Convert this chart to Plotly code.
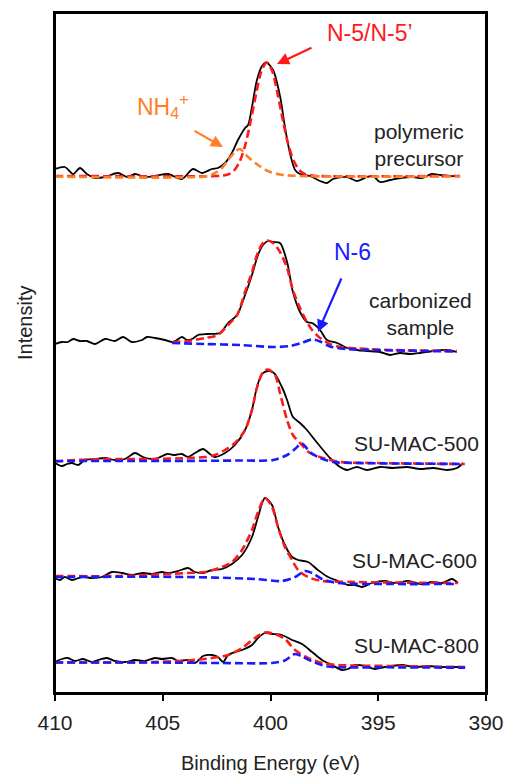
import plotly.graph_objects as go

# ---------------- data (binding energy in eV, intensity in a.u., stacked) ----------------
# 1) polymeric precursor
p_raw_e = [410.0, 409.54, 409.16, 408.84, 408.52, 408.14, 407.68, 407.08, 406.66, 406.29, 405.82, 405.36,
           404.76, 404.11, 403.60, 403.18, 402.72, 402.44, 402.11, 401.79, 401.51, 401.18, 401.04, 400.86,
           400.63, 400.39, 400.19, 399.88, 399.55, 399.33, 399.10, 398.86, 398.63, 398.17, 397.70, 397.38,
           397.10, 396.45, 395.99, 395.52, 395.24, 394.92, 394.45, 393.99, 393.39, 392.97, 392.51, 392.13,
           391.67, 391.35]
p_raw_i = [524, 526, 519, 525, 519, 515, 516, 520, 516, 519, 516, 517,
           519, 514, 524, 520, 524, 525, 530, 540, 553, 565, 568, 586,
           613, 627, 630.5, 623, 596, 566, 540, 523, 519, 517, 512, 510,
           514, 516, 512, 516, 517, 511, 513, 515, 516, 515, 519, 518,
           517, 517]
p_n5_e = [410.0, 402.5, 402.17, 401.92, 401.67, 401.42, 401.17, 400.92, 400.67, 400.42, 400.17, 399.92,
          399.67, 399.42, 399.17, 398.92, 398.67, 398.42, 398.17, 397.9, 391.2]
p_n5_i = [517, 517, 517.6, 519, 523, 532, 548, 572, 599, 622, 630.5, 622,
          599, 572, 548, 532, 523, 519, 517.6, 517, 517]
p_nh4_e = [410.0, 402.9, 402.58, 402.25, 401.97, 401.65, 401.42, 401.04, 400.58, 400.12, 399.56, 398.63, 391.2]
p_nh4_i = [516.5, 517, 520, 525, 533, 541, 544, 536, 528, 522, 518.5, 517, 516.5]

# 2) carbonized sample
c_raw_e = [410.0, 409.68, 409.40, 409.16, 408.84, 408.52, 408.14, 407.68, 407.22, 406.84, 406.43, 405.96,
           405.73, 405.36, 404.90, 404.52, 404.11, 403.87, 403.64, 403.36, 402.90, 402.34, 401.97, 401.55,
           401.18, 400.86, 400.58, 400.35, 400.12, 399.88, 399.56, 399.23, 398.96, 398.63, 398.31, 398.07,
           397.70, 397.38, 396.91, 396.45, 395.99, 395.52, 394.92, 394.45, 393.99, 393.53, 393.06, 392.46,
           391.81, 391.35]
c_raw_i = [349, 351, 351, 354, 352, 352, 349, 354, 352, 356, 351, 353,
           356, 355, 353, 351, 356, 353, 354, 358, 359, 360, 370, 378,
           398, 418, 438, 448, 452, 451, 450, 431, 401, 381, 371, 370,
           363, 353, 350, 345, 343, 342, 341, 338, 340, 339, 340, 342,
           343, 341]
c_n5_e = [404.57, 403.83, 403.04, 402.44, 401.97, 401.55, 401.18, 400.86, 400.58, 400.35, 400.16, 399.88,
          399.56, 399.23, 398.96, 398.63, 398.31, 398.07, 397.70, 397.24, 396.77, 395.99, 394.45, 391.35]
c_n5_i = [351, 352, 355, 358, 368, 378, 401, 421, 441, 450, 452.5, 450,
          441, 425, 403, 385, 371, 363, 355, 349, 346, 344.5, 343, 342]
c_n6_e = [404.57, 403.04, 401.42, 399.88, 399.10, 398.63, 398.07, 397.70, 397.24, 396.45, 395.24, 391.35]
c_n6_i = [350, 349, 348, 346, 347, 349.5, 353.5, 351.5, 346.5, 344, 343, 341.5]

# 3) SU-MAC-500
m5_raw_e = [410.0, 409.68, 409.44, 409.21, 408.93, 408.61, 408.14, 407.68, 407.22, 406.75, 406.29, 405.92,
            405.50, 405.22, 404.80, 404.43, 404.11, 403.83, 403.50, 403.13, 402.81, 402.58, 402.11, 401.65,
            401.18, 400.86, 400.63, 400.39, 400.12, 399.84, 399.47, 399.23, 398.96, 398.63, 398.31, 397.94,
            397.56, 397.24, 396.77, 396.45, 395.99, 395.52, 394.92, 394.32, 393.67, 393.06, 392.46, 391.81,
            391.35, 391.07]
m5_raw_i = [230, 227, 229, 230, 228, 233, 234, 235, 233, 234, 240, 236,
            234, 235, 239, 238, 239, 236, 240, 244, 239, 236, 240, 248,
            263, 283, 306, 319, 322, 320, 306, 293, 276, 270, 263, 253,
            243, 235, 226, 223, 226, 223, 226, 225, 226, 224, 225, 223,
            225, 230]
m5_n5_e = [410.0, 408.5, 407.0, 405.5, 403.8, 403.04, 402.58, 402.11, 401.65, 401.18, 400.86, 400.63,
           400.35, 400.12, 399.79, 399.56, 399.23, 398.96, 398.63, 398.17, 397.56, 396.77, 395.24, 391.0]
m5_n5_i = [231.5, 233.5, 234, 234, 235, 236, 238, 243, 250, 263, 283, 305,
           321, 323.5, 318, 300, 273, 258, 250, 240, 235, 231, 230, 229]
m5_n6_e = [410.0, 405.0, 401.42, 399.88, 399.23, 398.86, 398.54, 398.17, 397.70, 397.10, 395.99, 391.0]
m5_n6_i = [232, 232, 232.5, 233, 238, 244, 249.5, 241, 235, 231, 230, 229]

# 4) SU-MAC-600
m6_raw_e = [410.0, 409.77, 409.54, 409.21, 408.75, 408.28, 407.82, 407.36, 406.89, 406.43, 405.92, 405.50,
            405.03, 404.76, 404.29, 403.83, 403.50, 403.13, 402.72, 402.25, 401.79, 401.32, 400.86, 400.58,
            400.26, 399.93, 399.65, 399.33, 399.00, 398.72, 398.26, 397.80, 397.33, 396.87, 396.40, 396.08,
            395.75, 395.29, 394.69, 394.22, 393.62, 392.97, 392.51, 392.04, 391.58, 391.30]
m6_raw_i = [115, 113, 116, 113, 116, 115, 116, 121, 120, 118, 120, 119,
            121, 120, 122, 125, 121, 120, 123, 124, 129, 138, 156, 176,
            195, 188, 166, 148, 136, 133, 131, 123, 116, 112, 108, 108,
            106, 110, 112, 110, 112, 109, 111, 110, 114, 110]
m6_n5_e = [410.0, 407.0, 403.83, 403.04, 402.25, 401.79, 401.32, 400.86, 400.58, 400.26, 399.93, 399.65,
           399.33, 399.00, 398.72, 398.26, 397.61, 396.08, 391.30]
m6_n5_i = [117, 117, 120, 121, 126, 131, 143, 163, 181, 195, 186, 166,
           146, 133, 123, 116, 112, 111, 110]
m6_n6_e = [410.0, 403.83, 400.72, 399.47, 398.86, 398.40, 398.07, 397.61, 396.87, 394.55, 391.30]
m6_n6_i = [116, 116, 114, 112, 116, 122, 120, 114, 110, 109, 109]

# 5) SU-MAC-800
m8_raw_e = [410.0, 409.68, 409.40, 409.07, 408.70, 408.28, 408.00, 407.59, 407.22, 406.75, 406.29, 405.82,
            405.36, 405.03, 404.57, 404.29, 403.83, 403.50, 403.13, 402.72, 402.44, 402.20, 401.97, 401.65,
            401.32, 400.86, 400.58, 400.26, 399.93, 399.47, 399.00, 398.54, 398.07, 397.61, 397.15, 396.68,
            396.40, 396.08, 395.61, 395.15, 394.69, 393.90, 393.30, 392.69, 392.04, 391.44, 390.97]
m8_raw_i = [31, 34, 35, 32, 34, 31, 33, 35, 32, 31, 33, 32,
            35, 34, 35, 32, 33, 30, 37, 38, 36, 31, 38, 41,
            43, 48, 55, 60, 59, 58, 53, 49, 41, 33, 28, 23,
            24, 28, 27, 24, 26, 28, 26, 27, 26, 26, 26]
m8_n5_e = [410.0, 405.36, 403.04, 401.97, 401.32, 400.72, 400.26, 399.79, 399.33, 398.86, 398.26, 397.61,
           396.87, 394.55, 390.97]
m8_n5_i = [30.5, 31, 34, 38, 45, 55, 60.5, 59, 54, 43, 35, 30, 28, 27, 26]
m8_n6_e = [410.0, 405.36, 402.25, 399.93, 399.33, 398.86, 398.54, 398.07, 397.33, 394.55, 390.97]
m8_n6_i = [30.5, 30.5, 30, 30, 32.5, 39, 36.5, 31.5, 26.5, 25.7, 25.3]

x_ticks = [410, 405, 400, 395, 390]
x_range = [410, 390]
y_range = [0, 680]

# ---------------- styling ----------------
FONT = "Liberation Sans, Arial, sans-serif"
BLACK = "#000000"
RED = "#ff1a1a"
ORANGE = "#ff7f27"
BLUE = "#1a1aff"
DASH = "8px,4px"

W, H = 506, 776
ML, MR, MT, MB = 55, 20, 13, 83
PW, PH = W - ML - MR, H - MT - MB

fig = go.Figure()


def raw(e, i):
    fig.add_trace(go.Scatter(x=e, y=i, mode="lines", line=dict(color=BLACK, width=1.8, shape="spline", smoothing=0.8),
                             showlegend=False, hoverinfo="skip"))


def fit(e, i, color):
    fig.add_trace(go.Scatter(x=e, y=i, mode="lines", line=dict(color=color, width=2.6, dash=DASH, shape="spline", smoothing=0.8),
                             showlegend=False, hoverinfo="skip"))


raw(p_raw_e, p_raw_i)
fit(p_n5_e, p_n5_i, RED)
fit(p_nh4_e, p_nh4_i, ORANGE)

for r_e, r_i, a_e, a_i, b_e, b_i in [
    (c_raw_e, c_raw_i, c_n5_e, c_n5_i, c_n6_e, c_n6_i),
    (m5_raw_e, m5_raw_i, m5_n5_e, m5_n5_i, m5_n6_e, m5_n6_i),
    (m6_raw_e, m6_raw_i, m6_n5_e, m6_n5_i, m6_n6_e, m6_n6_i),
    (m8_raw_e, m8_raw_i, m8_n5_e, m8_n5_i, m8_n6_e, m8_n6_i),
]:
    raw(r_e, r_i)
    fit(a_e, a_i, RED)
    fit(b_e, b_i, BLUE)


# pixel -> paper helpers for annotation placement
def PX(px):
    return (px - ML) / PW


def PY(py):
    return (H - MB - py) / PH


def label(text, px, py, color="#222222", size=21, angle=0):
    fig.add_annotation(x=PX(px), y=PY(py), xref="paper", yref="paper", text=text, showarrow=False,
                       textangle=angle, font=dict(family=FONT, size=size, color=color),
                       xanchor="center", yanchor="middle")


def arrow(px_head, py_head, px_tail, py_tail, color):
    fig.add_annotation(x=PX(px_head), y=PY(py_head), xref="paper", yref="paper", text="", showarrow=True,
                       ax=px_tail - px_head, ay=py_tail - py_head, arrowhead=2, arrowsize=1.1,
                       arrowwidth=2.2, arrowcolor=color)


label("N-5/N-5\u2019", 370, 33, RED, 23)
arrow(277, 64, 313, 47, RED)
label("NH<sub>4</sub><sup>+</sup>", 163, 106, ORANGE, 23)
arrow(223, 147, 193, 130, ORANGE)
label("polymeric<br>precursor", 419, 145)
label("N-6", 352, 252, BLUE, 23)
arrow(318, 332, 342, 277, BLUE)
label("carbonized<br>sample", 420, 314)
label("SU-MAC-500", 416, 443)
label("SU-MAC-600", 414, 560)
label("SU-MAC-800", 416, 645)

# axis titles
label("Binding Energy (eV)", 270, 763, "#222222", 20)
label("Intensity", 25, 323, "#222222", 20, -90)

# plot frame
fig.add_shape(type="rect", xref="paper", yref="paper", x0=0, x1=1, y0=0, y1=1,
              line=dict(color="black", width=2), fillcolor="rgba(0,0,0,0)", layer="above")

fig.update_layout(
    width=W, height=H,
    margin=dict(l=ML, r=MR, t=MT, b=MB, autoexpand=False),
    paper_bgcolor="white", plot_bgcolor="white",
    font=dict(family=FONT, size=21, color="#222222"),
    xaxis=dict(range=x_range, tickvals=x_ticks, ticktext=[str(v) for v in x_ticks],
               ticks="outside", ticklen=6, tickwidth=2, tickcolor="black", automargin=False,
               ticklabelstandoff=4,
               showline=True, linewidth=2, linecolor="black", mirror=True,
               showgrid=False, zeroline=False, tickfont=dict(size=21, family=FONT, color="#222222")),
    yaxis=dict(range=y_range, showticklabels=False, ticks="", showline=True, linewidth=2, automargin=False,
               linecolor="black", mirror=True, showgrid=False, zeroline=False),
)

fig.write_html("out.html", config={"responsive": False})
